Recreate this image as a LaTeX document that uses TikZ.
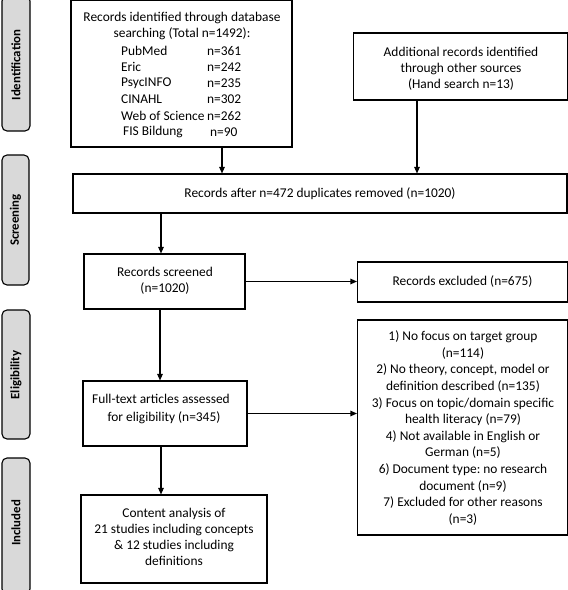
\documentclass[tikz,border=0pt]{standalone}
\usepackage{fontspec}
\setmainfont{Carlito}
\usetikzlibrary{arrows.meta}
\frenchspacing
\begin{document}
\begin{tikzpicture}[x=1pt,y=-1pt,
  every node/.style={font=\fontsize{13.4}{16}\selectfont, inner sep=0pt},
  boxed/.style={draw=black, line width=1.1pt, rectangle},
  side/.style={draw=black, line width=1.1pt, fill=sidegray, rounded corners=5pt},
  sidetext/.style={font=\fontsize{12.8}{14}\selectfont\bfseries, rotate=90},
  arr/.style={line width=1.1pt, -{Triangle[width=5.5pt,length=6.5pt]}},
  txt/.style={align=center}
]
\definecolor{sidegray}{HTML}{D9D9D9}
\useasboundingbox (0,0) rectangle (568,590);
\fill[white] (0,0) rectangle (568,590);

% side labels
\draw[side] (2,-4) rectangle (30,131);
\node[sidetext] (sid) at (16,65) {Identification};
\draw[side] (2,155) rectangle (29,285);
\node[sidetext] (sscr) at (15.5,220) {Screening};
\draw[side] (2,310) rectangle (30,439);
\node[sidetext] (selig) at (16,375) {Eligibility};
\draw[side] (2,458) rectangle (30,594);
\node[sidetext] (sinc) at (16,523) {Included};

% box 1
\node[boxed, minimum width=221pt, minimum height=147pt] (db) at (181.5,73.5) {};
\node (db1) at (182,18) {Records identified through database};
\node (db2) at (182,34) {searching (Total n=1492):};
\node[anchor=west] (pm) at (121,51) {PubMed};
\node[anchor=west] (pmn) at (207,51) {n=361};
\node[anchor=west] (er) at (121,67) {Eric};
\node[anchor=west] (ern) at (207,67) {n=242};
\node[anchor=west] (ps) at (121,83) {PsycINFO};
\node[anchor=west] (psn) at (207,83) {n=235};
\node[anchor=west] (ci) at (121,99) {CINAHL};
\node[anchor=west] (cin) at (207,99) {n=302};
\node[anchor=west] (ws) at (121,116) {Web of Science};
\node[anchor=west] (wsn) at (207,116) {n=262};
\node[anchor=west] (fi) at (123,132) {FIS Bildung};
\node[anchor=west] (fin) at (210,132) {n=90};

% box 2
\node[boxed, minimum width=214pt, minimum height=67pt] (add) at (460.5,66.5) {};
\node[txt] (addt) at (461,69) {Additional records identified\\through other sources\\(Hand search n=13)};

% box 3
\node[boxed, minimum width=494pt, minimum height=39pt] (dup) at (320,193.5) {Records after n=472 duplicates removed (n=1020)};

% box 4
\node[boxed, minimum width=161pt, minimum height=55pt] (scr) at (164.5,281.5) {};
\node[txt] (scrt) at (165,281) {Records screened\\(n=1020)};

% box 5
\node[boxed, minimum width=210pt, minimum height=40pt] (exc) at (462.5,282) {Records excluded (n=675)};

% box 6
\node[boxed, minimum width=210pt, minimum height=215pt] (rea) at (462.5,427.5) {};
\node[txt, font=\fontsize{13.4}{16.6}\selectfont] (reat) at (463,428) {1) No focus on target group\\(n=114)\\2) No theory, concept, model or\\definition described (n=135)\\3) Focus on topic/domain specific\\health literacy (n=79)\\4) Not available in English or\\German (n=5)\\6) Document type: no research\\document (n=9)\\7) Excluded for other reasons\\(n=3)};

% box 7
\node[boxed, minimum width=164pt, minimum height=65pt] (ft) at (165,413.5) {};
\node[txt, font=\fontsize{13.4}{18}\selectfont] (ftt) at (161,409) {Full-text articles assessed\\\hspace*{6pt}for eligibility (n=345)};

% box 8
\node[boxed, minimum width=186pt, minimum height=88pt] (ca) at (174,539) {};
\node[txt] (cat) at (174,537) {Content analysis of\\21 studies including concepts\\\& 12 studies including\\definitions};

% arrows
\draw[arr] (db.south -| 222,0) -- (dup.north -| 222,0);
\draw[arr] (add.south -| 417,0) -- (dup.north -| 417,0);
\draw[arr] (dup.south -| 161,0) -- (scr.north -| 161,0);
\draw[arr] (scr.east) -- (exc.west |- scr.east);
\draw[arr] (scr.south -| 160,0) -- (ft.north -| 160,0);
\draw[arr] (ft.east) -- (rea.west |- ft.east);
\draw[arr] (ft.south -| 161,0) -- (ca.north -| 161,0);
\end{tikzpicture}
\end{document}
